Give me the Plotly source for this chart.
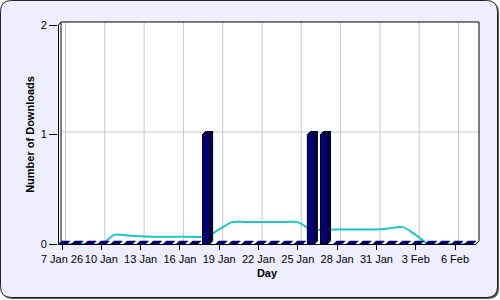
import plotly.graph_objects as go

# ---------------- data ----------------
days = list(range(32))  # 0 = 7 Jan ... 31 = 7 Feb
downloads = [0, 0, 0, 0, 0, 0, 0, 0, 0, 0, 0, 1, 0, 0, 0, 0,
             0, 0, 0, 1, 1, 0, 0, 0, 0, 0, 0, 0, 0, 0, 0, 0]
trend = [0, 0, 0, 0, 0.083, 0.077, 0.071, 0.067, 0.067, 0.067, 0.067, 0.067,
         0.133, 0.2, 0.2, 0.2, 0.2, 0.2, 0.2, 0.133, 0.133, 0.133, 0.133, 0.133,
         0.133, 0.143, 0.154, 0.083, 0, 0, 0, 0]
tick_days = [0, 3, 6, 9, 12, 15, 18, 21, 24, 27, 30]
tick_labels = ["7 Jan 26", "10 Jan", "13 Jan", "16 Jan", "19 Jan", "22 Jan",
               "25 Jan", "28 Jan", "31 Jan", "3 Feb", "6 Feb"]
y_ticks = [0, 1, 2]

# ---------------- geometry ----------------
W, H = 500, 300
L, R, T, B = 58, 24, 25, 56
PW, PH = W - L - R, H - T - B
PX_PER_DAY = 13.1
XMIN = -0.305
XMAX = XMIN + PW / PX_PER_DAY
YMIN, YMAX = 0, 2
DEPTH = 3  # px of 3D depth
dx = DEPTH / PX_PER_DAY
dy = DEPTH * (YMAX - YMIN) / PH
BW = 0.54  # bar width in days

FONT = "Liberation Sans, Arial, sans-serif"


def fx(px):
    return (px - L) / PW


def fy(py):
    return (H - B - py) / PH


def path(points, close=True):
    s = "M " + " L ".join(f"{fx(a):.5f},{fy(b):.5f}" for a, b in points)
    return s + (" Z" if close else "")


def rounded(x0, y0, x1, y1, r):
    p = f"M {fx(x0 + r):.5f},{fy(y0):.5f} L {fx(x1 - r):.5f},{fy(y0):.5f} "
    p += f"Q {fx(x1):.5f},{fy(y0):.5f} {fx(x1):.5f},{fy(y0 + r):.5f} "
    p += f"L {fx(x1):.5f},{fy(y1 - r):.5f} "
    p += f"Q {fx(x1):.5f},{fy(y1):.5f} {fx(x1 - r):.5f},{fy(y1):.5f} "
    p += f"L {fx(x0 + r):.5f},{fy(y1):.5f} "
    p += f"Q {fx(x0):.5f},{fy(y1):.5f} {fx(x0):.5f},{fy(y1 - r):.5f} "
    p += f"L {fx(x0):.5f},{fy(y0 + r):.5f} "
    p += f"Q {fx(x0):.5f},{fy(y0):.5f} {fx(x0 + r):.5f},{fy(y0):.5f} Z"
    return p


def px_x(d):
    return L + (d - XMIN) / (XMAX - XMIN) * PW


def px_y(v):
    return H - B - (v - YMIN) / (YMAX - YMIN) * PH


shapes = []
# background rounded box with shadow
shapes.append(dict(type="path", xref="paper", yref="paper", path=rounded(2, 2, 499, 299, 11),
                   fillcolor="#555555", line=dict(width=0), layer="below"))
shapes.append(dict(type="path", xref="paper", yref="paper", path=rounded(0.5, 0.5, 497.5, 297.5, 11),
                   fillcolor="#EEEEFF", line=dict(color="#222222", width=1), layer="below"))
# white 3D plot region
x0p, x1p = L, W - R
y0p, y1p = T, H - B
shapes.append(dict(type="path", xref="paper", yref="paper",
                   path=path([(x0p, y0p), (x0p + DEPTH, y0p - DEPTH), (x1p + DEPTH, y0p - DEPTH),
                              (x1p + DEPTH, y1p - DEPTH), (x1p, y1p), (x0p, y1p)]),
                   fillcolor="white", line=dict(width=0), layer="below"))
# grid on back wall
for d in tick_days:
    gx = px_x(d) + DEPTH + 0.5
    shapes.append(dict(type="line", xref="paper", yref="paper",
                       x0=fx(gx), x1=fx(gx), y0=fy(y1p - DEPTH), y1=fy(y0p - DEPTH),
                       line=dict(color="#C8C8C8", width=1), layer="below"))
for v in y_ticks[1:-1]:
    gy = px_y(v) - DEPTH + 0.5
    shapes.append(dict(type="line", xref="paper", yref="paper",
                       x0=fx(x0p + DEPTH), x1=fx(x1p + DEPTH), y0=fy(gy), y1=fy(gy),
                       line=dict(color="#C8C8C8", width=1), layer="below"))
# frame
shapes.append(dict(type="path", xref="paper", yref="paper",
                   path=path([(x0p + DEPTH, y1p - DEPTH), (x0p + DEPTH, y0p - DEPTH),
                              (x1p + DEPTH, y0p - DEPTH), (x1p + DEPTH, y1p - DEPTH),
                              (x1p, y1p)], close=False),
                   line=dict(color="black", width=1), layer="below"))
shapes.append(dict(type="path", xref="paper", yref="paper",
                   path=path([(x0p + 0.5, y1p), (x0p + 0.5, y0p), (x0p + DEPTH, y0p - DEPTH)], close=False),
                   line=dict(color="black", width=1), layer="below"))
shapes.append(dict(type="line", xref="paper", yref="paper",
                   x0=fx(x0p), x1=fx(x1p), y0=fy(y1p + 0.5), y1=fy(y1p + 0.5),
                   line=dict(color="black", width=1), layer="below"))

fig = go.Figure()

# trend line (behind bars)
fig.add_trace(go.Scatter(x=days, y=trend, mode="lines",
                         line=dict(color="#1CC6C6", width=2, shape="spline", smoothing=1),
                         hoverinfo="skip", showlegend=False))

# 3D bars built from the data
floor_x, floor_y = [], []
top_x, top_y, side_x, side_y, front_x, front_y = [], [], [], [], [], []
for d, v in zip(days, downloads):
    a, b = d - BW / 2, d + BW / 2
    if v > 0:
        top_x += [a, b, b + dx, a + dx, a, None]
        top_y += [v, v, v + dy, v + dy, v, None]
        side_x += [b, b + dx, b + dx, b, b, None]
        side_y += [0, dy, v + dy, v, 0, None]
        front_x += [a, b, b, a, a, None]
        front_y += [0, 0, v, v, 0, None]
    else:
        floor_x += [a, b + 0.12, b + 0.12 + dx, a + dx, a, None]
        floor_y += [v, v, v + dy, v + dy, v, None]

fig.add_trace(go.Scatter(x=floor_x, y=floor_y, mode="lines", fill="toself", fillcolor="#000070",
                         line=dict(color="#000070", width=0.5), hoverinfo="skip",
                         showlegend=False))
for xs, ys, col in [(side_x, side_y, "#00005A"), (front_x, front_y, "#000080"),
                    (top_x, top_y, "#000068")]:
    fig.add_trace(go.Scatter(x=xs, y=ys, mode="lines", fill="toself", fillcolor=col,
                             line=dict(color="black", width=1), hoverinfo="skip",
                             showlegend=False))

fig.update_layout(
    width=W, height=H,
    margin=dict(l=L, r=R, t=T, b=B, pad=0),
    paper_bgcolor="white",
    plot_bgcolor="rgba(0,0,0,0)",
    font=dict(family=FONT, size=11, color="black"),
    shapes=shapes,
    showlegend=False,
    xaxis=dict(range=[XMIN, XMAX], tickvals=tick_days, ticktext=tick_labels,
               showgrid=False, zeroline=False, showline=False, automargin=False,
               tickangle=0,
               ticks="outside", ticklen=5, tickcolor="black", tickwidth=1,
               tickfont=dict(family=FONT, size=11),
               title=dict(text="<b>Day</b>", font=dict(family=FONT, size=11), standoff=5)),
    yaxis=dict(range=[YMIN, YMAX], tickvals=y_ticks, ticktext=[str(v) for v in y_ticks],
               showgrid=False, zeroline=False, showline=False, automargin=False,
               ticks="outside", ticklen=8, tickcolor="black", tickwidth=1,
               tickfont=dict(family=FONT, size=11),
               title=dict(text="<b>Number of Downloads</b>", font=dict(family=FONT, size=11), standoff=3)),
)

fig.write_html("out.html")
